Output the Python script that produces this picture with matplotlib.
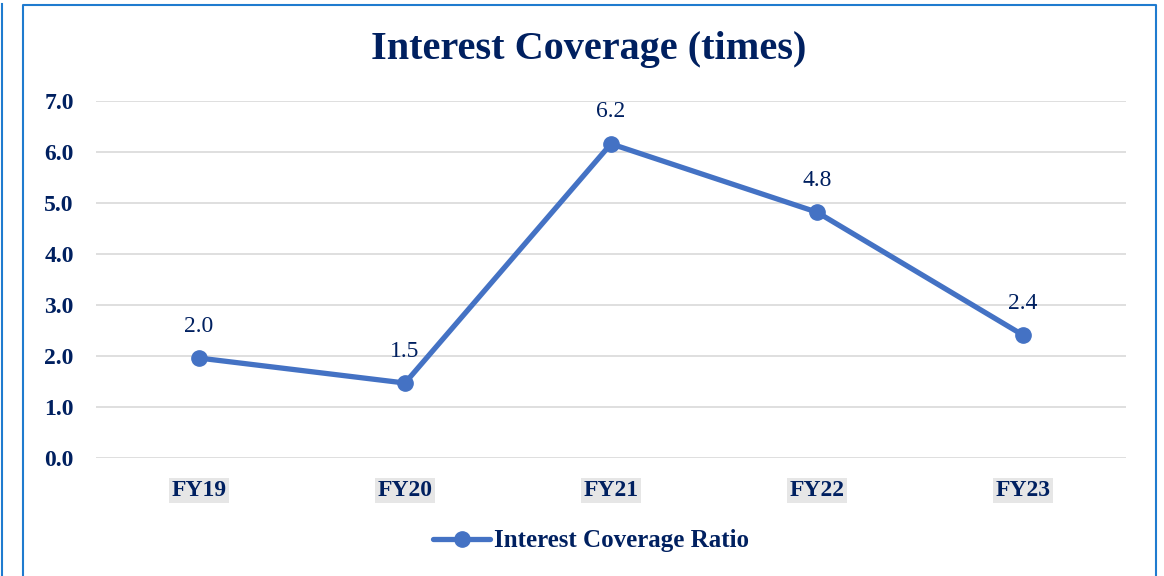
import numpy as np
import matplotlib.pyplot as plt
from matplotlib.lines import Line2D

# data
years = ['FY19', 'FY20', 'FY21', 'FY22', 'FY23']
icr = [1.96, 1.47, 6.16, 4.82, 2.41]
icr_labels = ['2.0', '1.5', '6.2', '4.8', '2.4']

navy = '#002060'
blue = '#4472C4'
frame = '#1F7BCF'

plt.rcParams['font.family'] = ['Liberation Serif', 'DejaVu Serif']

W, H = 1164, 576
fig = plt.figure(figsize=(W / 100, H / 100), dpi=100)

# axes placed in pixel terms
x0, x1, yt, yb = 96, 1126, 101, 458
ax = fig.add_axes([x0 / W, 1 - yb / H, (x1 - x0) / W, (yb - yt) / H])

x = np.arange(len(years))
ax.plot(x, icr, color=blue, lw=3.8, marker='o', ms=11, solid_capstyle='round',
        label='Interest Coverage Ratio', zorder=3)
for xi, v, s in zip(x, icr, icr_labels):
    ax.annotate(s, (xi, v), xytext=(0, 23), textcoords='offset points',
                ha='center', va='center', fontsize=17, color=navy)

ax.set_xlim(-0.5, len(years) - 0.5)
ax.set_ylim(0, 7)
ax.set_yticks(np.arange(0, 8, 1))
ax.set_yticklabels([f'{v:.1f}' for v in np.arange(0, 8, 1)],
                   fontsize=17, fontweight='bold', color=navy)
ax.set_xticks(x)
ax.set_xticklabels(years, fontsize=17, fontweight='bold', color=navy)
for t in ax.get_xticklabels():
    t.set_bbox(dict(facecolor='#E6E6E6', edgecolor='none', pad=1.5))
ax.tick_params(axis='y', length=0, pad=16)
ax.tick_params(axis='x', length=0, pad=16)
for sp in ax.spines.values():
    sp.set_visible(False)
ax.grid(axis='y', color='#D9D9D9', lw=1.2)
ax.set_axisbelow(True)

fig.text(589 / W, 1 - 49 / H, 'Interest Coverage (times)', ha='center', va='center',
         fontsize=29, fontweight='bold', color=navy)

fig.legend(loc='center', bbox_to_anchor=(591 / W, 1 - 541 / H), frameon=False,
           prop={'size': 18, 'weight': 'bold'}, labelcolor=navy,
           handlelength=2.3, handletextpad=0.15)

# frame lines
fig.add_artist(Line2D([1.5 / W, 1.5 / W], [0, 1 - 4 / H], color=frame, lw=1.5))
fig.add_artist(Line2D([22.5 / W, 22.5 / W, 1155.5 / W, 1155.5 / W],
                      [0, 1 - 4.5 / H, 1 - 4.5 / H, 0], color=frame, lw=1.5))

fig.savefig('out.png', dpi=100)
